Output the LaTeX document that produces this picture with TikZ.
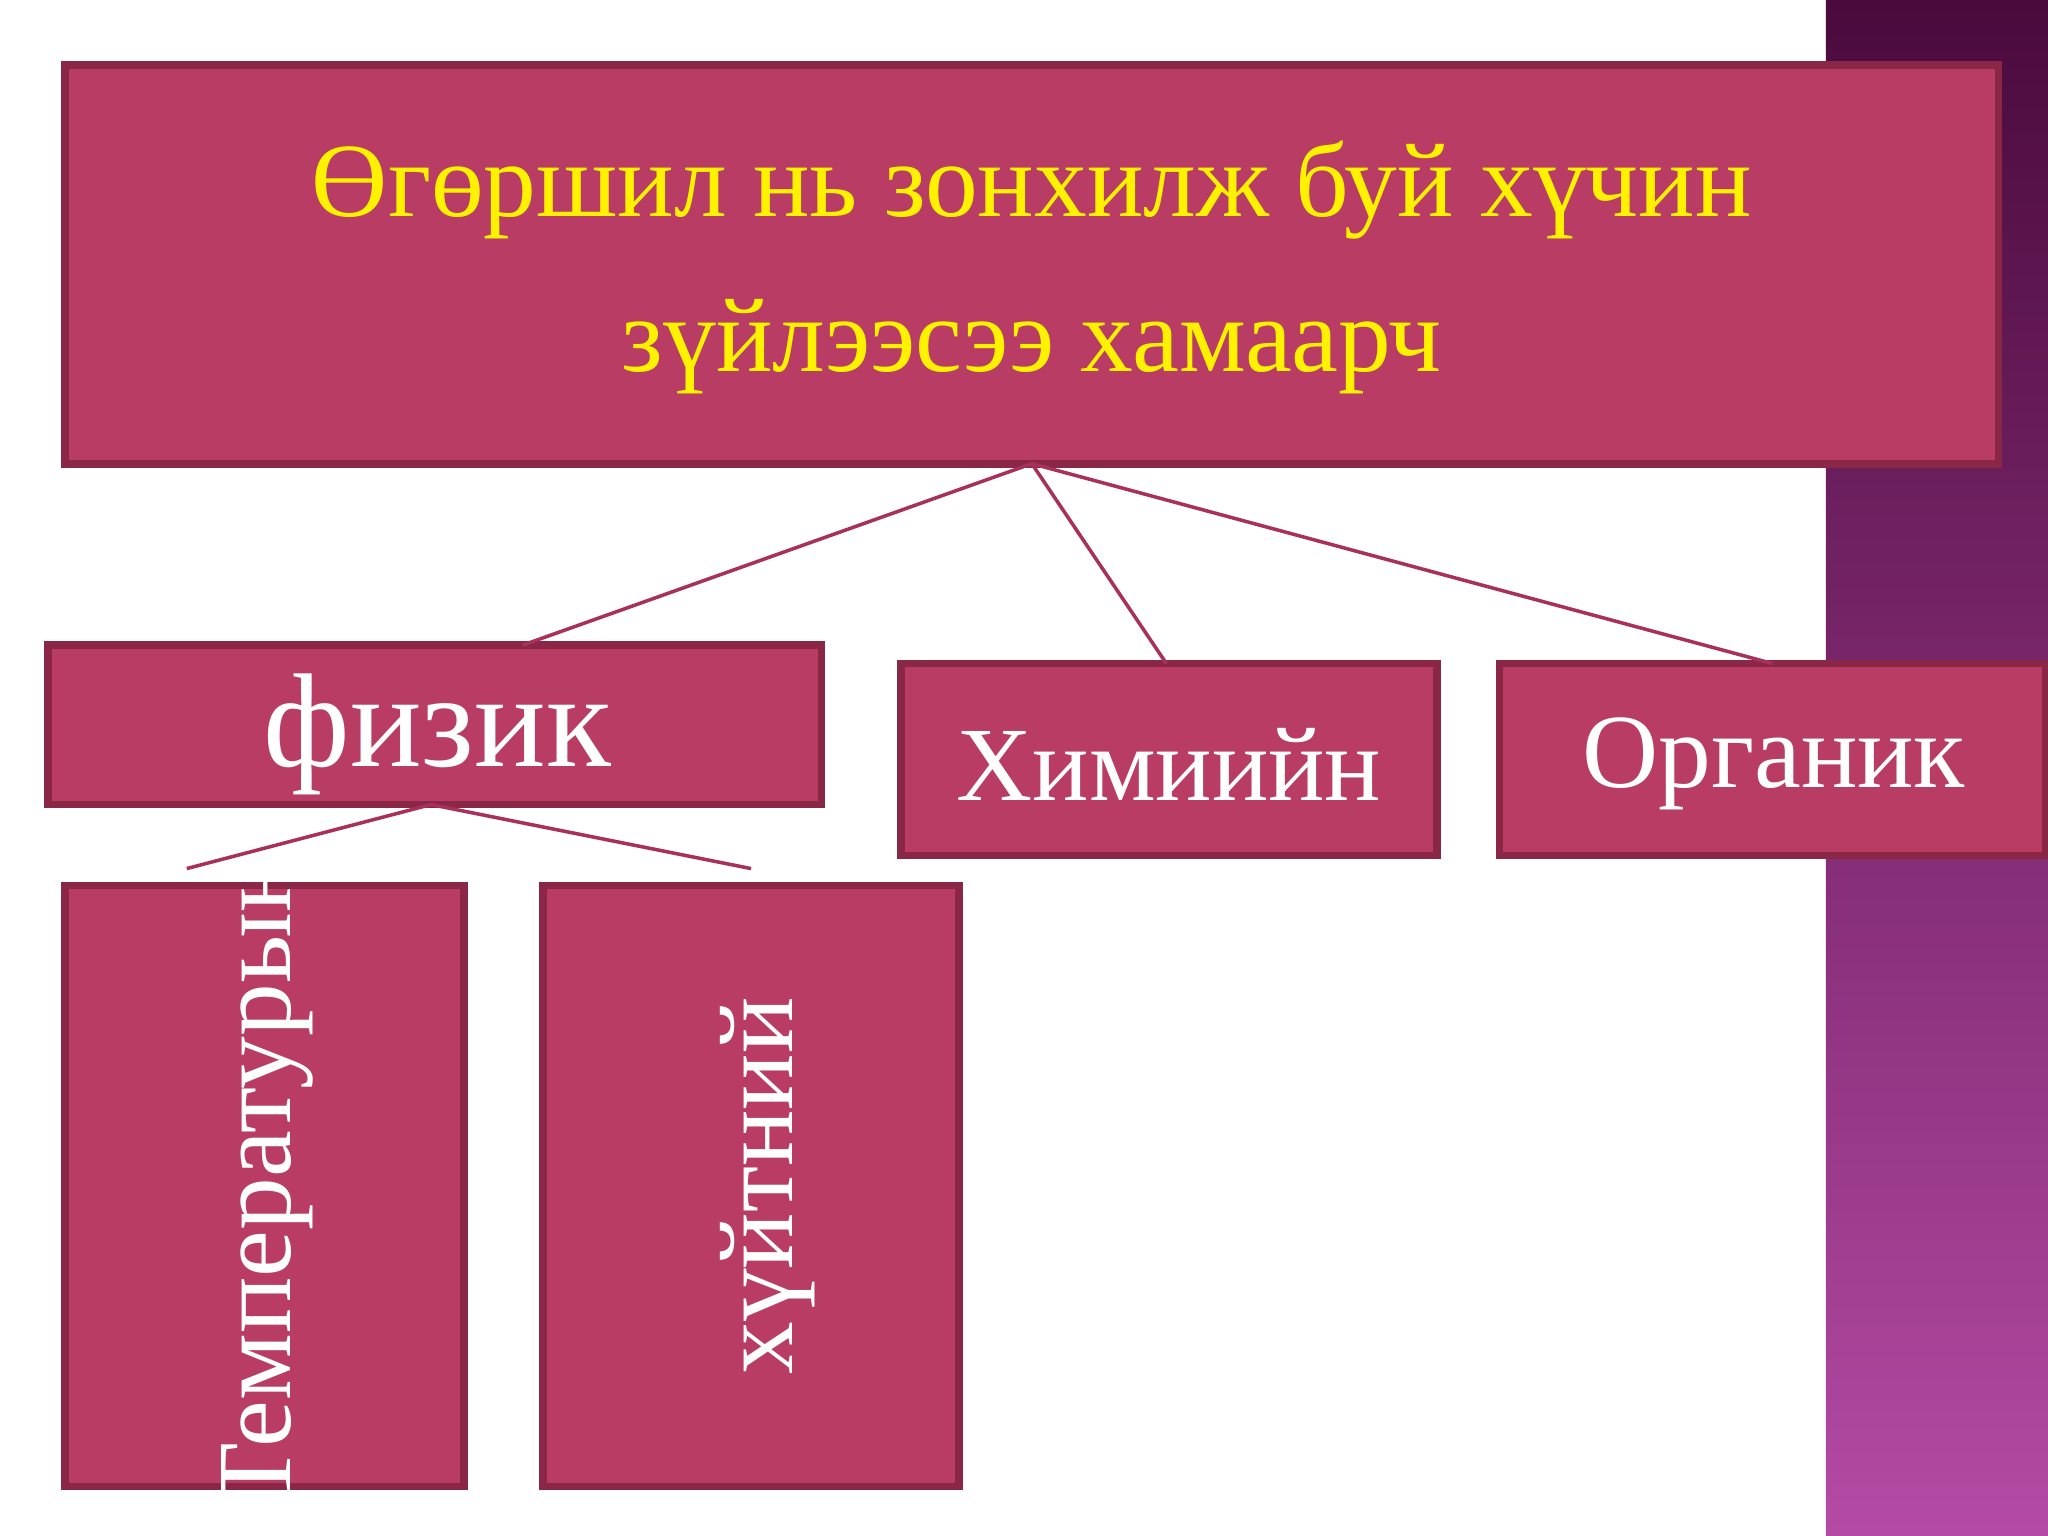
\documentclass[tikz,border=0pt]{standalone}
\usepackage{fontspec}
\setmainfont{Liberation Serif}
\begin{document}
\begin{tikzpicture}[x=0.0130612cm,y=-0.0130612cm,
  box/.style={draw=boxedge,fill=boxfill,line width=2.2pt,inner sep=0pt},
  link/.style={draw=linkc,line width=1pt}]
\definecolor{boxfill}{HTML}{B83C64}
\definecolor{boxedge}{HTML}{8A2646}
\definecolor{linkc}{HTML}{A8305A}
\definecolor{stript}{HTML}{4A0A3C}
\definecolor{stripb}{HTML}{B44AA4}
\useasboundingbox (0,0) rectangle (1568,1176);
\fill[white] (0,0) rectangle (1568,1176);
\shade[top color=stript,bottom color=stripb] (1398,0) rectangle (1568,1176);
% boxes
\draw[box] (50,50) rectangle (1530,355);
\coordinate (topb) at (790,355);
\node[text=yellow,font=\fontsize{30}{44}\selectfont,align=center] (title) at (790,205) {Өгөршил нь зонхилж буй хүчин\\зүйлээсээ хамаарч};
\draw[box] (37,494) rectangle (629,616);
\node[text=white,font=\fontsize{38}{40}\selectfont] (phys) at (335,562) {физик};
\draw[box] (690,508) rectangle (1100,655);
\node[text=white,font=\fontsize{30}{32}\selectfont] (chem) at (895,585) {Химиийн};
\draw[box] (1148,508) rectangle (1566,655);
\node[text=white,font=\fontsize{30}{32}\selectfont] (org) at (1358,585) {Органик};
\draw[box] (50,678) rectangle (355,1138);
\node[text=white,font=\fontsize{30}{32}\selectfont,rotate=90] (temp) at (205,905) {Температурын};
\draw[box] (416,678) rectangle (734,1138);
\node[text=white,font=\fontsize{30}{32}\selectfont,rotate=90] (cold) at (588,908) {хүйтний};
% links
\coordinate (p1) at (400,494);
\coordinate (c1) at (893,508);
\coordinate (o1) at (1357,508);
\coordinate (pb) at (330,616);
\coordinate (e1) at (143,665);
\coordinate (e2) at (575,665);
\draw[link] (topb) -- (p1);
\draw[link] (topb) -- (c1);
\draw[link] (topb) -- (o1);
\draw[link] (pb) -- (e1);
\draw[link] (pb) -- (e2);
\end{tikzpicture}
\end{document}
